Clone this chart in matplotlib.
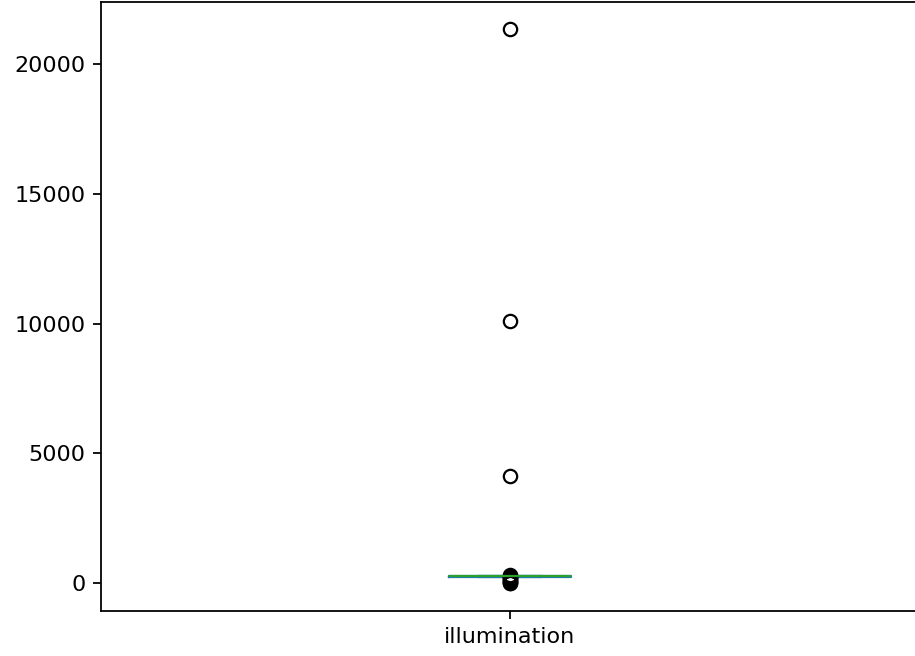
import numpy as np
import pandas as pd
import matplotlib
matplotlib.use("Agg")
import matplotlib.pyplot as plt

# illumination readings (bulk near ~260, a few extreme outliers)
illumination = [
    0, 15, 40, 80, 120, 160, 200, 230, 245, 250,
    255, 257, 258, 259, 260, 260, 261, 261, 261, 262,
    262, 262, 262, 262, 263, 263, 263, 263, 264, 264,
    264, 265, 265, 266, 267, 268, 270, 280, 300, 320,
    4146, 10096, 21343,
]

df = pd.DataFrame({"illumination": illumination})

dpi = 160
fig = plt.figure(figsize=(915 / dpi, 656 / dpi), dpi=dpi)
# the original was cropped on the right, so the axes run a little past the edge
ax = fig.add_axes([101 / 915, 45 / 656, 818 / 915, 609.5 / 656])
df.plot.box(ax=ax)

fig.savefig("out.png", dpi=dpi)
